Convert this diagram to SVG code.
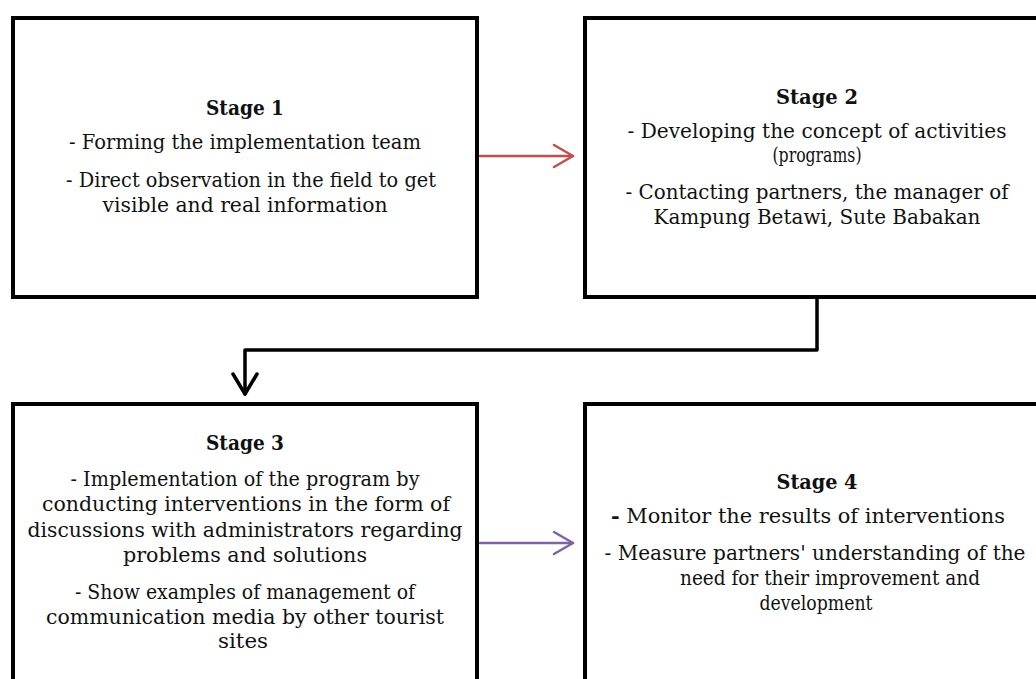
<svg xmlns="http://www.w3.org/2000/svg" width="1036" height="679" viewBox="0 0 1036 679">
<style>
.box{fill:#fff;stroke:#000;stroke-width:4}
text{font-family:"DejaVu Serif",serif;font-size:20px;fill:#111;text-anchor:middle}
.b{font-weight:bold}
</style>
<rect width="1036" height="679" fill="#fff"/>
<g id="connectors" fill="none" stroke-linecap="round" stroke-linejoin="round">
<path d="M817 297 V350 H245 V394" stroke="#000" stroke-width="3.5"/>
<polyline points="233,374 245,394 257,374" stroke="#000" stroke-width="3.5"/>
<path d="M480 156 H573" stroke="#c0504d" stroke-width="2.5"/>
<polyline points="554,145 573,156 554,167" stroke="#c0504d" stroke-width="2.5"/>
<path d="M480 543 H573" stroke="#8064a2" stroke-width="2.5"/>
<polyline points="554,532 573,543 554,554" stroke="#8064a2" stroke-width="2.5"/>
</g>
<g id="stage1">
<rect class="box" x="13" y="18" width="464" height="279"/>
<text class="b" x="245" y="115" textLength="78" lengthAdjust="spacingAndGlyphs">Stage 1</text>
<text x="245" y="149" textLength="352" lengthAdjust="spacingAndGlyphs">- Forming the implementation team</text>
<text x="251" y="187" textLength="370" lengthAdjust="spacingAndGlyphs">- Direct observation in the field to get</text>
<text x="245" y="212" textLength="285" lengthAdjust="spacingAndGlyphs">visible and real information</text>
</g>
<g id="stage2">
<rect class="box" x="585" y="18" width="464" height="279"/>
<text class="b" x="817" y="104" textLength="82" lengthAdjust="spacingAndGlyphs">Stage 2</text>
<text x="817" y="138" textLength="379" lengthAdjust="spacingAndGlyphs">- Developing the concept of activities</text>
<text x="817" y="162" textLength="89" lengthAdjust="spacingAndGlyphs">(programs)</text>
<text x="817" y="199" textLength="383" lengthAdjust="spacingAndGlyphs">- Contacting partners, the manager of</text>
<text x="817" y="224" textLength="327" lengthAdjust="spacingAndGlyphs">Kampung Betawi, Sute Babakan</text>
</g>
<g id="stage3">
<rect class="box" x="13" y="404" width="464" height="290"/>
<text class="b" x="245" y="450" textLength="78" lengthAdjust="spacingAndGlyphs">Stage 3</text>
<text x="245" y="486" textLength="349" lengthAdjust="spacingAndGlyphs">- Implementation of the program by</text>
<text x="246" y="511" textLength="408" lengthAdjust="spacingAndGlyphs">conducting interventions in the form of</text>
<text x="245" y="537" textLength="435" lengthAdjust="spacingAndGlyphs">discussions with administrators regarding</text>
<text x="245" y="562" textLength="244" lengthAdjust="spacingAndGlyphs">problems and solutions</text>
<text x="245" y="599" textLength="340" lengthAdjust="spacingAndGlyphs">- Show examples of management of</text>
<text x="245" y="624" textLength="398" lengthAdjust="spacingAndGlyphs">communication media by other tourist</text>
<text x="243" y="648" textLength="50" lengthAdjust="spacingAndGlyphs">sites</text>
</g>
<g id="stage4">
<rect class="box" x="585" y="404" width="464" height="290"/>
<text class="b" x="817" y="489" textLength="81" lengthAdjust="spacingAndGlyphs">Stage 4</text>
<text x="808" y="523" textLength="394" lengthAdjust="spacingAndGlyphs"><tspan font-weight="bold">-</tspan> Monitor the results of interventions</text>
<text x="815" y="560" textLength="421" lengthAdjust="spacingAndGlyphs">- Measure partners' understanding of the</text>
<text x="830" y="585" textLength="300" lengthAdjust="spacingAndGlyphs">need for their improvement and</text>
<text x="816" y="610" textLength="113" lengthAdjust="spacingAndGlyphs">development</text>
</g>
</svg>
